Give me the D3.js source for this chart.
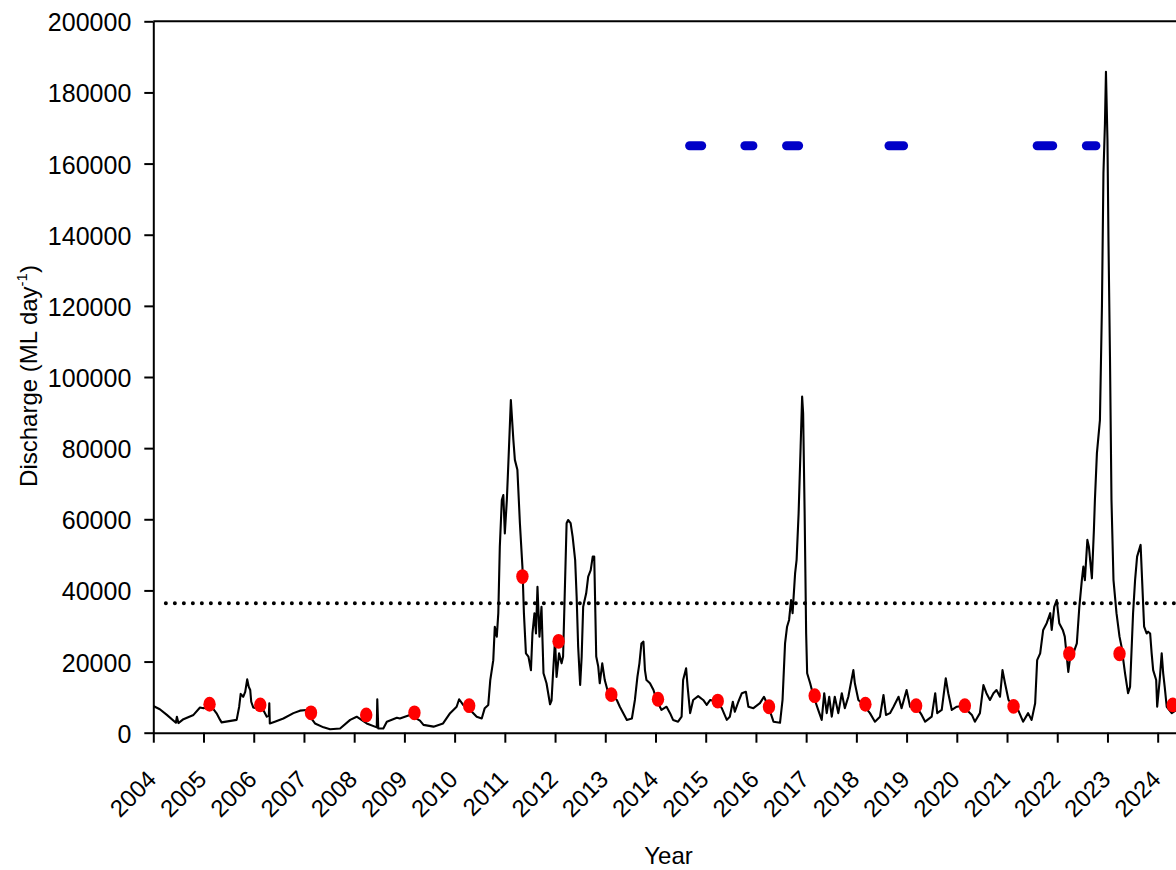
<!DOCTYPE html>
<html>
<head>
<meta charset="utf-8">
<script src="https://cdn.jsdelivr.net/npm/d3@7"></script>
<style>
  html, body { margin: 0; padding: 0; background: #fff; }
  svg { display: block; }
  text { font-family: "Liberation Sans", Arial, sans-serif; fill: #000; }
</style>
</head>
<body>
<svg id="chart" width="1176" height="870"></svg>
<script>
// Daily discharge, sampled as [decimal year, ML/day]
const discharge = [
  [2004.00, 7500], [2004.13, 6600], [2004.27, 5000], [2004.45, 2800], [2004.47, 4500], [2004.50, 2700],
  [2004.60, 3800], [2004.80, 5000], [2004.93, 7100], [2005.00, 6900], [2005.16, 7300], [2005.26, 5450],
  [2005.33, 3600], [2005.36, 2900], [2005.66, 3600], [2005.71, 7300], [2005.74, 10900], [2005.79, 10100],
  [2005.83, 11500], [2005.87, 15000], [2005.90, 12900], [2005.93, 12000], [2005.95, 8700], [2005.99, 7100],
  [2006.19, 6400], [2006.26, 4500], [2006.30, 4800], [2006.31, 8300], [2006.32, 2600], [2006.42, 3100],
  [2006.59, 4000], [2006.79, 5500], [2006.92, 6200], [2007.05, 6400], [2007.12, 4500], [2007.22, 2600],
  [2007.39, 1500], [2007.52, 950], [2007.72, 1200], [2007.92, 3600], [2008.05, 4500], [2008.25, 2600],
  [2008.45, 1500], [2008.46, 9400], [2008.48, 1200], [2008.58, 1200], [2008.65, 3100], [2008.85, 4200],
  [2008.91, 4000], [2009.11, 5000], [2009.31, 3400], [2009.38, 2200], [2009.58, 1700], [2009.77, 2600],
  [2009.91, 5500], [2010.04, 7300], [2010.09, 9400], [2010.17, 7800], [2010.31, 6400], [2010.44, 4500],
  [2010.54, 4000], [2010.60, 6900], [2010.67, 7800], [2010.71, 14800], [2010.77, 20400], [2010.80, 29800],
  [2010.84, 27000], [2010.87, 33600], [2010.90, 52300], [2010.94, 65400], [2010.97, 66800], [2011.00, 56000],
  [2011.04, 65400], [2011.07, 75700], [2011.12, 93500], [2011.17, 82300], [2011.20, 76700], [2011.25, 73900],
  [2011.30, 58900], [2011.35, 46700], [2011.38, 33600], [2011.42, 22300], [2011.47, 21400], [2011.52, 17600],
  [2011.55, 27900], [2011.59, 33600], [2011.62, 27900], [2011.65, 41000], [2011.69, 27000], [2011.73, 35400],
  [2011.77, 16700], [2011.83, 13900], [2011.90, 8000], [2011.93, 9000], [2011.96, 16700], [2012.00, 26100],
  [2012.03, 15700], [2012.08, 22300], [2012.13, 19500], [2012.16, 21400], [2012.23, 58900], [2012.26, 59800],
  [2012.31, 58900], [2012.35, 55100], [2012.40, 48600], [2012.43, 38200], [2012.46, 24200], [2012.50, 13400],
  [2012.53, 21400], [2012.56, 35400], [2012.62, 39200], [2012.66, 43900], [2012.71, 45700], [2012.75, 49500],
  [2012.78, 49500], [2012.82, 21400], [2012.86, 18600], [2012.89, 13900], [2012.94, 19500], [2012.99, 14800],
  [2013.06, 11100], [2013.23, 9200], [2013.29, 7300], [2013.43, 3600], [2013.53, 4000], [2013.59, 9200],
  [2013.64, 15700], [2013.68, 19500], [2013.72, 25100], [2013.76, 25600], [2013.79, 17600], [2013.82, 14800],
  [2013.89, 13900], [2013.96, 12000], [2014.02, 9200], [2014.12, 6400], [2014.22, 7300], [2014.29, 5500],
  [2014.35, 3600], [2014.45, 3100], [2014.52, 4500], [2014.55, 14800], [2014.61, 18100], [2014.64, 12900],
  [2014.69, 5500], [2014.75, 9200], [2014.85, 10300], [2014.95, 9200], [2015.02, 7800], [2015.09, 9200],
  [2015.22, 8700], [2015.32, 6900], [2015.42, 3600], [2015.48, 4500], [2015.54, 8700], [2015.58, 5900],
  [2015.65, 8700], [2015.72, 11100], [2015.80, 11500], [2015.85, 7300], [2015.95, 6900], [2016.08, 8300],
  [2016.16, 10100], [2016.25, 7300], [2016.35, 3100], [2016.48, 2800], [2016.53, 9200], [2016.58, 25100],
  [2016.62, 29800], [2016.66, 31700], [2016.70, 37300], [2016.73, 33600], [2016.78, 44800], [2016.81, 48600],
  [2016.85, 61700], [2016.89, 80400], [2016.92, 94500], [2016.94, 89800], [2016.97, 61700], [2017.00, 27900],
  [2017.02, 16700], [2017.08, 13900], [2017.14, 10600], [2017.24, 6400], [2017.31, 3600], [2017.36, 11100],
  [2017.41, 5500], [2017.46, 10100], [2017.51, 4500], [2017.57, 10100], [2017.64, 5500], [2017.71, 11100],
  [2017.77, 6900], [2017.84, 10100], [2017.94, 17600], [2017.97, 13900], [2018.04, 9200], [2018.11, 8300],
  [2018.27, 5500], [2018.37, 3100], [2018.47, 4500], [2018.54, 10600], [2018.59, 5000], [2018.67, 5500],
  [2018.74, 7300], [2018.84, 10100], [2018.90, 6900], [2019.00, 12000], [2019.07, 7300], [2019.18, 7600],
  [2019.30, 5000], [2019.37, 3100], [2019.50, 4500], [2019.57, 11100], [2019.61, 5500], [2019.70, 6400],
  [2019.78, 15300], [2019.83, 11100], [2019.90, 6400], [2020.00, 7300], [2020.15, 7600], [2020.20, 6400],
  [2020.30, 5000], [2020.36, 3100], [2020.46, 5500], [2020.53, 13400], [2020.59, 11100], [2020.66, 9200],
  [2020.73, 11100], [2020.79, 12000], [2020.86, 10100], [2020.91, 17600], [2020.96, 13900], [2021.03, 9200],
  [2021.12, 7400], [2021.22, 6400], [2021.32, 3100], [2021.42, 5500], [2021.49, 3600], [2021.56, 8300],
  [2021.60, 20400], [2021.66, 22300], [2021.72, 28900], [2021.79, 30800], [2021.86, 33600], [2021.89, 28900],
  [2021.94, 35400], [2021.99, 37300], [2022.04, 30800], [2022.11, 28900], [2022.15, 27000], [2022.22, 17100],
  [2022.25, 20400], [2022.32, 22300], [2022.39, 25100], [2022.44, 35400], [2022.49, 42900], [2022.52, 46700],
  [2022.55, 42900], [2022.60, 54200], [2022.63, 52300], [2022.69, 43400], [2022.73, 57000], [2022.75, 65400],
  [2022.79, 78600], [2022.85, 87900], [2022.89, 119800], [2022.92, 157300], [2022.95, 171300], [2022.97, 185800],
  [2023.00, 166600], [2023.02, 138500], [2023.05, 105700], [2023.08, 65400], [2023.12, 42900], [2023.18, 33600],
  [2023.24, 27000], [2023.28, 24200], [2023.35, 16700], [2023.41, 11100], [2023.45, 12900], [2023.51, 33600],
  [2023.55, 42900], [2023.59, 49500], [2023.66, 52800], [2023.69, 42900], [2023.73, 29800], [2023.78, 27900],
  [2023.81, 28400], [2023.85, 27900], [2023.88, 22300], [2023.91, 17600], [2023.97, 14800], [2023.99, 7300],
  [2024.04, 14800], [2024.08, 22300], [2024.11, 16700], [2024.14, 12900], [2024.18, 7300], [2024.28, 5500],
  [2024.37, 6400], [2024.50, 6000]
];

// Sampling occasions: [decimal year, discharge on the day]
const samples = [
  [2005.12, 8000], [2006.13, 7800], [2007.14, 5600], [2008.24, 5000], [2009.20, 5600],
  [2010.29, 7600], [2011.35, 43900], [2012.07, 25700], [2013.12, 10700], [2014.05, 9400],
  [2015.24, 8900], [2016.26, 7300], [2017.17, 10400], [2018.18, 8000], [2019.19, 7600],
  [2020.16, 7600], [2021.13, 7400], [2022.24, 22200], [2023.24, 22200], [2024.30, 7800]
];

// Periods marked at the top: [start year, end year]
const periods = [
  [2014.68, 2014.92], [2015.78, 2015.94], [2016.61, 2016.85],
  [2018.65, 2018.94], [2021.60, 2021.91], [2022.58, 2022.77]
];
const periodLevel = 165000;

// Threshold discharge (dotted line)
const threshold = 36400;
const thresholdStart = 2004.25;

const yearTicks = d3.range(2004, 2025);
const valueTicks = d3.range(0, 200001, 20000);

const svg = d3.select("#chart");
const x = d3.scaleLinear().domain([2004, 2025]).range([153.3, 1207.9]);
const y = d3.scaleLinear().domain([0, 200000]).range([732.7, 21.3]);

svg.append("rect").attr("width", 1176).attr("height", 870).attr("fill", "#fff");

// discharge trace
svg.append("path")
  .datum(discharge)
  .attr("fill", "none")
  .attr("stroke", "#000")
  .attr("stroke-width", 2.1)
  .attr("stroke-linejoin", "round")
  .attr("d", d3.line().x(d => x(d[0])).y(d => y(d[1])));

// threshold
svg.append("line")
  .attr("x1", x(thresholdStart)).attr("x2", x(2025))
  .attr("y1", y(threshold)).attr("y2", y(threshold))
  .attr("stroke", "#000")
  .attr("stroke-width", 4)
  .attr("stroke-linecap", "round")
  .attr("stroke-dasharray", "0 9");

// marked periods
svg.append("g").selectAll("line").data(periods).join("line")
  .attr("x1", d => x(d[0])).attr("x2", d => x(d[1]))
  .attr("y1", y(periodLevel)).attr("y2", y(periodLevel))
  .attr("stroke", "#0000c8")
  .attr("stroke-width", 9)
  .attr("stroke-linecap", "round");

// sampling points
svg.append("g").selectAll("ellipse").data(samples).join("ellipse")
  .attr("cx", d => x(d[0])).attr("cy", d => y(d[1]))
  .attr("rx", 6.2).attr("ry", 7.4)
  .attr("fill", "#ff0000");

// top frame line
svg.append("line")
  .attr("x1", x(2004)).attr("x2", x(2025))
  .attr("y1", y(200000)).attr("y2", y(200000))
  .attr("stroke", "#000").attr("stroke-width", 2);

// axes
const yAxis = svg.append("g")
  .attr("transform", `translate(${x(2004)},0)`)
  .call(d3.axisLeft(y).tickValues(valueTicks).tickFormat(d3.format("d"))
    .tickSize(9).tickSizeOuter(0).tickPadding(13));
yAxis.selectAll("text").attr("font-size", 25).attr("dy", "0.38em");

const xAxis = svg.append("g")
  .attr("transform", `translate(0,${y(0)})`)
  .call(d3.axisBottom(x).tickValues(yearTicks).tickFormat(d3.format("d"))
    .tickSize(10).tickSizeOuter(0));
xAxis.selectAll("text")
  .attr("font-size", 24)
  .attr("text-anchor", "end")
  .attr("dy", null)
  .attr("y", null)
  .attr("transform", "translate(4,48) rotate(-45)");

svg.selectAll(".domain, .tick line").attr("stroke", "#000").attr("stroke-width", 2);
svg.selectAll(".tick text").attr("font-family", "Liberation Sans, Arial, sans-serif").attr("fill", "#000");

// axis titles
svg.append("text")
  .attr("x", 668.5).attr("y", 864)
  .attr("text-anchor", "middle")
  .attr("font-size", 24)
  .text("Year");

const yt = svg.append("text")
  .attr("transform", "translate(37,376) rotate(-90)")
  .attr("text-anchor", "middle")
  .attr("font-size", 24);
yt.append("tspan").text("Discharge (ML day");
yt.append("tspan").attr("font-size", 15).attr("dy", -10).text("-1");
yt.append("tspan").attr("dy", 10).text(")");
</script>
</body>
</html>
